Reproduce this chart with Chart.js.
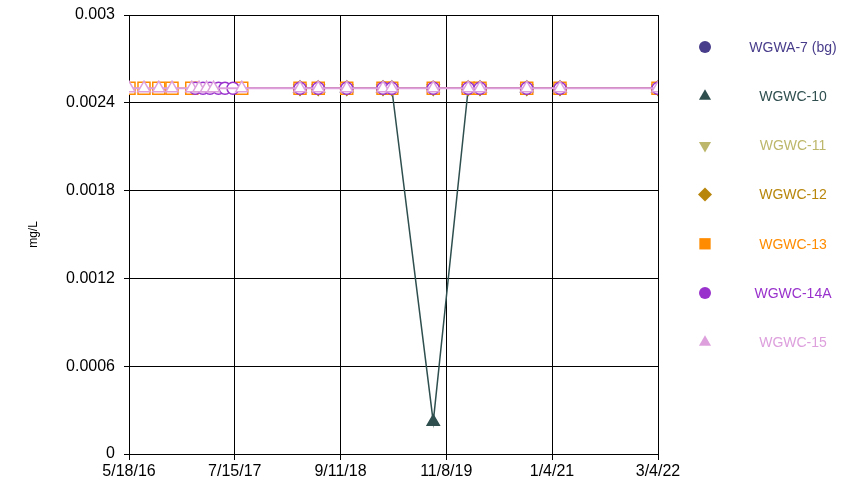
<!DOCTYPE html>
<html>
<head>
<meta charset="utf-8">
<script src="https://cdn.jsdelivr.net/npm/chart.js@4/dist/chart.umd.min.js"></script>
<style>
  html, body { margin: 0; padding: 0; background: #ffffff; }
  #wrap { width: 858px; height: 489px; }
</style>
</head>
<body>
<div id="wrap"><canvas id="chemChart" width="858" height="489"></canvas></div>
<script>
// data (mg/L)
const seriesNames = ['WGWA-7 (bg)', 'WGWC-10', 'WGWC-11', 'WGWC-12', 'WGWC-13', 'WGWC-14A', 'WGWC-15'];
const seriesColors = ['#483D8B', '#2F4F4F', '#BDB76B', '#B8860B', '#FF8C00', '#9932CC', '#DDA0DD'];

const wgwa7Dates = ['2018-04-02', '2018-06-14', '2018-10-06', '2019-02-28', '2019-04-04', '2019-09-17', '2020-02-04', '2020-03-22', '2020-09-25', '2021-02-05', '2022-03-04'];
const wgwa7Values = [0.0025, 0.0025, 0.0025, 0.0025, 0.0025, 0.0025, 0.0025, 0.0025, 0.0025, 0.0025, 0.0025];

const wgwc10Dates = ['2018-04-02', '2018-06-14', '2018-10-06', '2019-02-28', '2019-04-04', '2019-09-17', '2020-02-04', '2020-03-22', '2020-09-25', '2021-02-05', '2022-03-04'];
const wgwc10Values = [0.0025, 0.0025, 0.0025, 0.0025, 0.0025, 0.00022, 0.0025, 0.0025, 0.0025, 0.0025, 0.0025];

const wgwc11Dates = ['2018-04-02', '2018-06-14', '2018-10-06', '2019-02-28', '2019-04-04', '2019-09-17', '2020-02-04', '2020-03-22', '2020-09-25', '2021-02-05', '2022-03-04'];
const wgwc11Values = [0.0025, 0.0025, 0.0025, 0.0025, 0.0025, 0.0025, 0.0025, 0.0025, 0.0025, 0.0025, 0.0025];

const wgwc12Dates = ['2018-04-02', '2018-06-14', '2018-10-06', '2019-02-28', '2019-04-04', '2019-09-17', '2020-02-04', '2020-03-22', '2020-09-25', '2021-02-05', '2022-03-04'];
const wgwc12Values = [0.0025, 0.0025, 0.0025, 0.0025, 0.0025, 0.0025, 0.0025, 0.0025, 0.0025, 0.0025, 0.0025];

const wgwc13Dates = ['2016-05-18', '2016-07-17', '2016-09-14', '2016-11-06', '2017-01-24', '2017-08-12', '2018-04-02', '2018-06-14', '2018-10-06', '2019-02-28', '2019-04-04', '2019-09-17', '2020-02-04', '2020-03-22', '2020-09-25', '2021-02-05', '2022-03-04'];
const wgwc13Values = [0.0025, 0.0025, 0.0025, 0.0025, 0.0025, 0.0025, 0.0025, 0.0025, 0.0025, 0.0025, 0.0025, 0.0025, 0.0025, 0.0025, 0.0025, 0.0025, 0.0025];

const wgwc14aDates = ['2017-02-07', '2017-03-10', '2017-04-07', '2017-05-11', '2017-06-06', '2017-07-08', '2018-04-02', '2018-06-14', '2018-10-06', '2019-02-28', '2019-04-04', '2019-09-17', '2020-02-04', '2020-03-22', '2020-09-25', '2021-02-05', '2022-03-04'];
const wgwc14aValues = [0.0025, 0.0025, 0.0025, 0.0025, 0.0025, 0.0025, 0.0025, 0.0025, 0.0025, 0.0025, 0.0025, 0.0025, 0.0025, 0.0025, 0.0025, 0.0025, 0.0025];

const wgwc15Dates = ['2016-05-18', '2016-07-17', '2016-09-14', '2016-11-06', '2017-01-24', '2017-02-22', '2017-03-24', '2017-04-21', '2017-08-12', '2018-04-02', '2018-06-14', '2018-10-06', '2019-02-28', '2019-04-04', '2019-09-17', '2020-02-04', '2020-03-22', '2020-09-25', '2021-02-05', '2022-03-04'];
const wgwc15Values = [0.0025, 0.0025, 0.0025, 0.0025, 0.0025, 0.0025, 0.0025, 0.0025, 0.0025, 0.0025, 0.0025, 0.0025, 0.0025, 0.0025, 0.0025, 0.0025, 0.0025, 0.0025, 0.0025, 0.0025];

const xTickLabels = ['5/18/16', '7/15/17', '9/11/18', '11/8/19', '1/4/21', '3/4/22'];
const yTickValues = [0, 0.0006, 0.0012, 0.0018, 0.0024, 0.003];

// days counted from the first axis date
function dayNum(iso) {
    const p = iso.split('-');
    return Date.UTC(+p[0], +p[1] - 1, +p[2]) / 86400000;
}
function labelDay(lbl) {
    const p = lbl.split('/');
    return Date.UTC(2000 + +p[2], +p[0] - 1, +p[1]) / 86400000;
}
const day0 = labelDay(xTickLabels[0]);
const xTickDays = xTickLabels.map(l => labelDay(l) - day0);

function pts(dates, values) {
    return dates.map((d, i) => ({ x: dayNum(d) - day0, y: values[i] }));
}

const allDates = [wgwa7Dates, wgwc10Dates, wgwc11Dates, wgwc12Dates, wgwc13Dates, wgwc14aDates, wgwc15Dates];
const allValues = [wgwa7Values, wgwc10Values, wgwc11Values, wgwc12Values, wgwc13Values, wgwc14aValues, wgwc15Values];
const markerStyles = ['circle', 'triangle', 'triangle', 'rectRot', 'rect', 'circle', 'triangle'];
const markerRotation = [0, 0, 180, 0, 0, 0, 0];
const markerRadius = [6, 7, 7, 7, 8.5, 6, 7];
const hollowMarker = [false, false, false, false, true, true, true];

const datasets = seriesNames.map((name, i) => ({
    label: name,
    data: pts(allDates[i], allValues[i]),
    borderColor: seriesColors[i],
    backgroundColor: seriesColors[i],
    borderWidth: i === 6 ? 2 : 1.5,
    pointStyle: markerStyles[i],
    pointRotation: markerRotation[i],
    pointRadius: markerRadius[i],
    pointBorderWidth: 1.5,
    pointBackgroundColor: hollowMarker[i] ? '#ffffff' : seriesColors[i],
    pointBorderColor: seriesColors[i],
    tension: 0,
    order: seriesNames.length - i   // last series drawn on top
}));

// legend on the right: marker then centred coloured text
const sideLegend = {
    id: 'sideLegend',
    afterDraw(chart) {
        const ctx = chart.ctx;
        ctx.save();
        ctx.font = '14px "Liberation Sans", Arial, sans-serif';
        ctx.textAlign = 'center';
        ctx.textBaseline = 'middle';
        seriesNames.forEach((name, i) => {
            const y = 47 + i * 49.2;
            ctx.fillStyle = seriesColors[i];
            ctx.strokeStyle = seriesColors[i];
            Chart.helpers.drawPoint(ctx, {
                pointStyle: markerStyles[i],
                rotation: markerRotation[i],
                radius: markerStyles[i] === 'rect' ? 8 : (markerStyles[i] === 'circle' ? 6 : 7),
                borderWidth: 0
            }, 705, y);
            ctx.fillStyle = seriesColors[i];
            ctx.fillText(name, 793, y + 1);
        });
        ctx.restore();
    }
};

new Chart(document.getElementById('chemChart'), {
    type: 'line',
    data: { datasets: datasets },
    options: {
        responsive: false,
        animation: false,
        layout: { padding: { top: 15, right: 200, bottom: 0, left: 0 } },
        plugins: {
            legend: { display: false },
            tooltip: { enabled: false }
        },
        scales: {
            x: {
                type: 'linear',
                min: xTickDays[0],
                max: xTickDays[xTickDays.length - 1],
                afterBuildTicks(scale) { scale.ticks = xTickDays.map(v => ({ value: v })); },
                afterFit(scale) {
                    scale.height = 35;
                    scale.paddingLeft = 0;
                    scale.paddingRight = 0;
                },
                grid: { color: '#000000', lineWidth: 1, tickLength: 6 },
                border: { color: '#000000', width: 1 },
                ticks: {
                    color: '#000000',
                    font: { family: '"Liberation Sans", Arial, sans-serif', size: 16 },
                    padding: 2,
                    maxRotation: 0,
                    autoSkip: false,
                    callback: (v, i) => xTickLabels[i]
                }
            },
            y: {
                min: 0,
                max: 0.003,
                afterBuildTicks(scale) { scale.ticks = yTickValues.map(v => ({ value: v })); },
                afterFit(scale) {
                    scale.width = 129;
                    scale.paddingTop = 0;
                    scale.paddingBottom = 0;
                },
                grid: { color: '#000000', lineWidth: 1, tickLength: 5 },
                border: { color: '#000000', width: 1 },
                title: {
                    display: true,
                    text: 'mg/L',
                    color: '#000000',
                    font: { family: '"Liberation Sans", Arial, sans-serif', size: 12 },
                    padding: { top: 26, bottom: 0 }
                },
                ticks: {
                    color: '#000000',
                    font: { family: '"Liberation Sans", Arial, sans-serif', size: 16 },
                    padding: 9,
                    autoSkip: false,
                    callback: v => String(parseFloat(v.toPrecision(6)))
                }
            }
        }
    },
    plugins: [sideLegend]
});
</script>
</body>
</html>
